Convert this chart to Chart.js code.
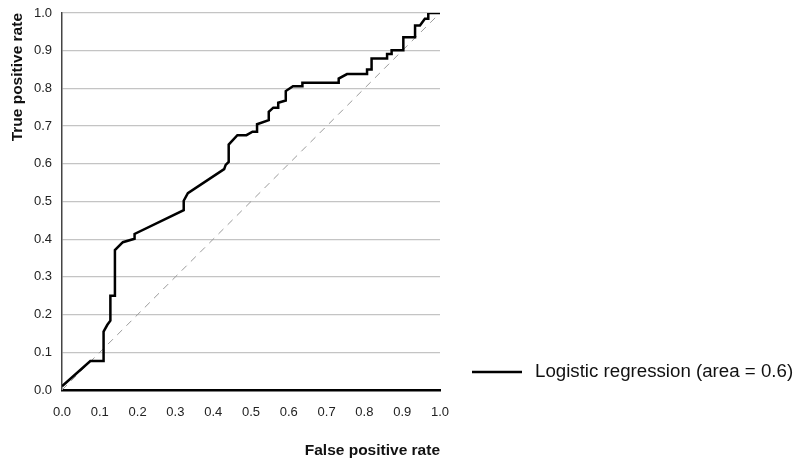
<!DOCTYPE html>
<html>
<head>
<meta charset="utf-8">
<script src="https://cdn.jsdelivr.net/npm/chart.js@4"></script>
<style>
  html, body { margin: 0; padding: 0; background: #fff; }
  #wrap { width: 799px; height: 462px; }
</style>
</head>
<body>
<div id="wrap"><canvas id="roc" width="799" height="462"></canvas></div>
<script>
// ROC curve
const fpr = [0, 0.075, 0.11, 0.11, 0.12, 0.128, 0.128, 0.14, 0.14, 0.161, 0.192, 0.192,
  0.322, 0.322, 0.333, 0.429, 0.433, 0.441, 0.441, 0.464, 0.488, 0.504, 0.516, 0.516,
  0.547, 0.547, 0.559, 0.572, 0.572, 0.592, 0.592, 0.611, 0.636, 0.636, 0.732, 0.732,
  0.754, 0.807, 0.807, 0.819, 0.819, 0.86, 0.86, 0.872, 0.872, 0.903, 0.903, 0.934,
  0.934, 0.947, 0.96, 0.969, 0.969, 1.0];
const tpr = [0.01, 0.077, 0.077, 0.155, 0.173, 0.184, 0.25, 0.25, 0.371, 0.392, 0.401, 0.414,
  0.477, 0.502, 0.522, 0.586, 0.597, 0.605, 0.651, 0.676, 0.676, 0.685, 0.685, 0.705,
  0.716, 0.738, 0.749, 0.749, 0.762, 0.768, 0.793, 0.806, 0.806, 0.815, 0.815, 0.826,
  0.838, 0.838, 0.85, 0.85, 0.879, 0.879, 0.891, 0.891, 0.901, 0.901, 0.936, 0.936,
  0.967, 0.967, 0.985, 0.985, 1.0, 1.0];
const chanceX = [0, 1];
const chanceY = [0, 1];
const seriesLabel = 'Logistic regression (area = 0.6)';

const FONT = '"Liberation Sans", Arial, sans-serif';

// legend drawn by hand (single line entry, bottom right of the plot)
const sideLegend = {
  id: 'sideLegend',
  afterDraw(chart) {
    const {ctx, chartArea} = chart;
    const ds = chart.data.datasets[0];
    const y = chartArea.bottom - 18;
    const x0 = chartArea.right + 32;
    ctx.save();
    ctx.strokeStyle = ds.borderColor;
    ctx.lineWidth = 2.5;
    ctx.beginPath();
    ctx.moveTo(x0, y);
    ctx.lineTo(x0 + 50, y);
    ctx.stroke();
    ctx.fillStyle = '#111';
    ctx.font = '18.7px ' + FONT;
    ctx.textBaseline = 'middle';
    ctx.fillText(ds.label, x0 + 63, y);
    ctx.restore();
  }
};

new Chart(document.getElementById('roc'), {
  type: 'line',
  data: {
    datasets: [{
      label: seriesLabel,
      data: fpr.map((x, i) => ({x: x, y: tpr[i]})),
      borderColor: '#000',
      borderWidth: 2.5,
      pointRadius: 0,
      tension: 0,
      fill: false
    }, {
      label: 'chance',
      data: chanceX.map((x, i) => ({x: x, y: chanceY[i]})),
      borderColor: '#9a9a9a',
      borderWidth: 1,
      borderDash: [7, 6],
      pointRadius: 0,
      fill: false
    }]
  },
  options: {
    responsive: false,
    animation: false,
    layout: { padding: { top: 13, right: 359, left: 0, bottom: 0 } },
    scales: {
      x: {
        type: 'linear',
        min: 0, max: 1,
        afterFit(scale) { scale.height = 72; },
        grid: { display: false, drawTicks: false },
        border: { color: '#000', width: 2.5 },
        ticks: {
          stepSize: 0.1, padding: 15, color: '#222', maxRotation: 0,
          font: { family: FONT, size: 13 },
          callback: v => v.toFixed(1)
        },
        title: {
          display: true, text: 'False positive rate', align: 'end',
          color: '#111', padding: { top: 0, bottom: 2 },
          font: { family: FONT, size: 15.5, weight: 'bold' }
        }
      },
      y: {
        min: 0, max: 1,
        afterFit(scale) { scale.width = 62; scale.paddingTop = 0; scale.paddingBottom = 0; },
        grid: { color: '#c4c4c4', lineWidth: 1.3, drawTicks: false },
        border: { color: '#444', width: 1.5 },
        ticks: {
          stepSize: 0.1, padding: 10, color: '#222',
          font: { family: FONT, size: 13 },
          callback: v => v.toFixed(1)
        },
        title: {
          display: true, text: 'True positive rate', align: 'end',
          color: '#111', padding: { top: 8, bottom: 0 },
          font: { family: FONT, size: 15.5, weight: 'bold' }
        }
      }
    },
    plugins: {
      legend: { display: false },
      tooltip: { enabled: false }
    }
  },
  plugins: [sideLegend]
});
</script>
</body>
</html>
